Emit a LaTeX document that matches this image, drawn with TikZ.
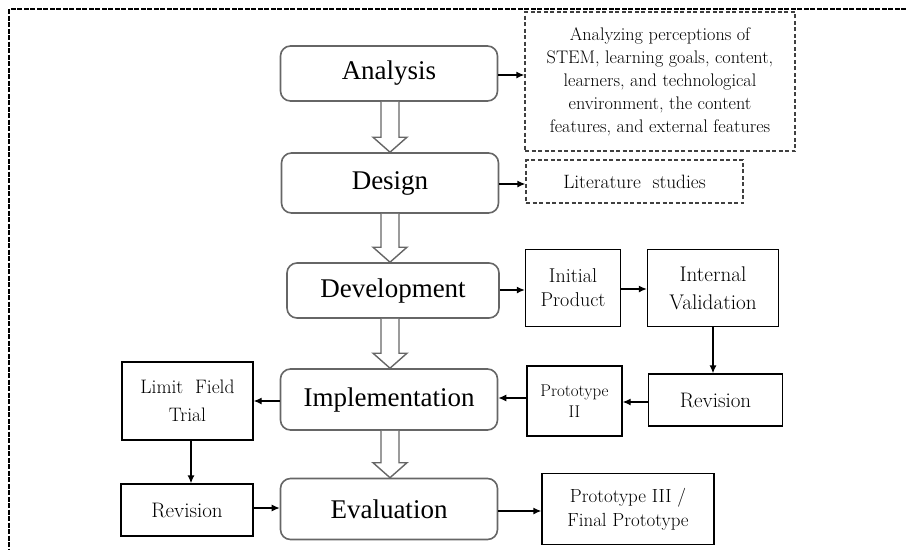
\documentclass[tikz,border=0pt]{standalone}
\usepackage{fontspec}
\newfontfamily\phasefont{Liberation Serif}
\usetikzlibrary{arrows.meta,positioning,calc}

\tikzset{
  phase/.style={draw=black!60, line width=1.6pt, rounded corners=10pt, inner sep=0pt,
    minimum width=217pt, minimum height=58pt, font=\phasefont\fontsize{27}{30}\selectfont},
  stagebox/.style={draw, line width=1.3pt, align=center, inner sep=0pt,
    font=\fontsize{21}{25}\selectfont},
  notebox/.style={stagebox, draw=black!75, dash pattern=on 4pt off 2.5pt},
  link/.style={-{Latex[length=8pt,width=7pt]}, line width=1.3pt},
  hollow/.style={draw=black!60, line width=1.4pt, fill=white},
  frame/.style={line width=2pt, dash pattern=on 5pt off 1.5pt}
}

\begin{document}
\begin{tikzpicture}[x=1pt, y=-1pt]
    \useasboundingbox (0,0) rectangle (906,550);
    \draw[frame] (906,9) -- (9,9) -- (9,550);

    % main phases
    \node[phase, minimum height=55pt] (ana) at (389,73.5) {Analysis};
    \node[phase, minimum height=60pt] (des) at (390,183) {Design};
    \node[phase, minimum width=212pt, minimum height=55pt] (dev) at (393,290.5) {Development};
    \node[phase, minimum height=61pt] (imp) at (389,399.5) {Implementation};
    \node[phase, minimum height=61pt] (eva) at (389,509) {Evaluation};

    \foreach \a/\b in {ana/des, des/dev, dev/imp, imp/eva}
        \draw[hollow] ($(\a.south -| 390,0)+(-9,0)$) -- ($(\b.north -| 390,0)+(-9,-15)$) -- ++(-8,0)
            -- (\b.north -| 390,0) -- ++(17,-15) -- ++(-8,0) -- ($(\a.south -| 390,0)+(9,0)$);

    % side boxes
    \node[notebox, minimum width=270pt, minimum height=139pt, font=\fontsize{18.2}{23}\selectfont] (per) at (660,81.5)
        {Analyzing perceptions of\\STEM, learning goals, content,\\learners, and technological\\environment, the content\\features, and external features};
    \node[notebox, minimum width=217pt, minimum height=43pt, font=\fontsize{19.3}{22}\selectfont] (lit) at (634.5,181.5) {Literature~ studies};
    \node[stagebox, minimum width=95pt, minimum height=77pt, font=\fontsize{20}{24}\selectfont] (ini) at (573,288) {Initial\\Product};
    \node[stagebox, minimum width=131pt, minimum height=77pt, font=\fontsize{21.2}{28}\selectfont] (val) at (713,288) {Internal\\Validation};
    \node[stagebox, minimum width=134pt, minimum height=52pt] (rev) at (715.5,400) {Revision};
    \node[stagebox, minimum width=95pt, minimum height=70pt, font=\fontsize{17}{21}\selectfont] (pro) at (574.5,401) {Prototype\\II};
    \node[stagebox, minimum width=131pt, minimum height=78pt, font=\fontsize{19.5}{28}\selectfont] (lim) at (187.5,401) {Limit~ Field\\Trial};
    \node[stagebox, minimum width=132pt, minimum height=52pt] (rvb) at (187,510) {Revision};
    \node[stagebox, minimum width=172pt, minimum height=71pt, font=\fontsize{19}{24}\selectfont] (fin) at (628,509) {Prototype III /\\Final Prototype};

    \draw[link] (ana.east |- 0,75) -- (per.west |- 0,75);
    \draw[link] (des.east |- 0,184) -- (lit.west |- 0,184);
    \draw[link] (dev.east |- 0,290) -- (ini.west |- 0,290);
    \draw[link] (ini.east |- 0,289) -- (val.west |- 0,289);
    \draw[link] (val.south) -- (rev.north -| val.south);
    \draw[link] (rev.west |- 0,402) -- (pro.east |- 0,402);
    \draw[link] (pro.west |- 0,398) -- (imp.east |- 0,398);
    \draw[link] (imp.west |- 0,401) -- (lim.east |- 0,401);
    \draw[link] (lim.south -| 191,0) -- (rvb.north -| 191,0);
    \draw[link] (rvb.east |- 0,508) -- (eva.west |- 0,508);
    \draw[link] (eva.east |- 0,511) -- (fin.west |- 0,511);
\end{tikzpicture}
\end{document}
